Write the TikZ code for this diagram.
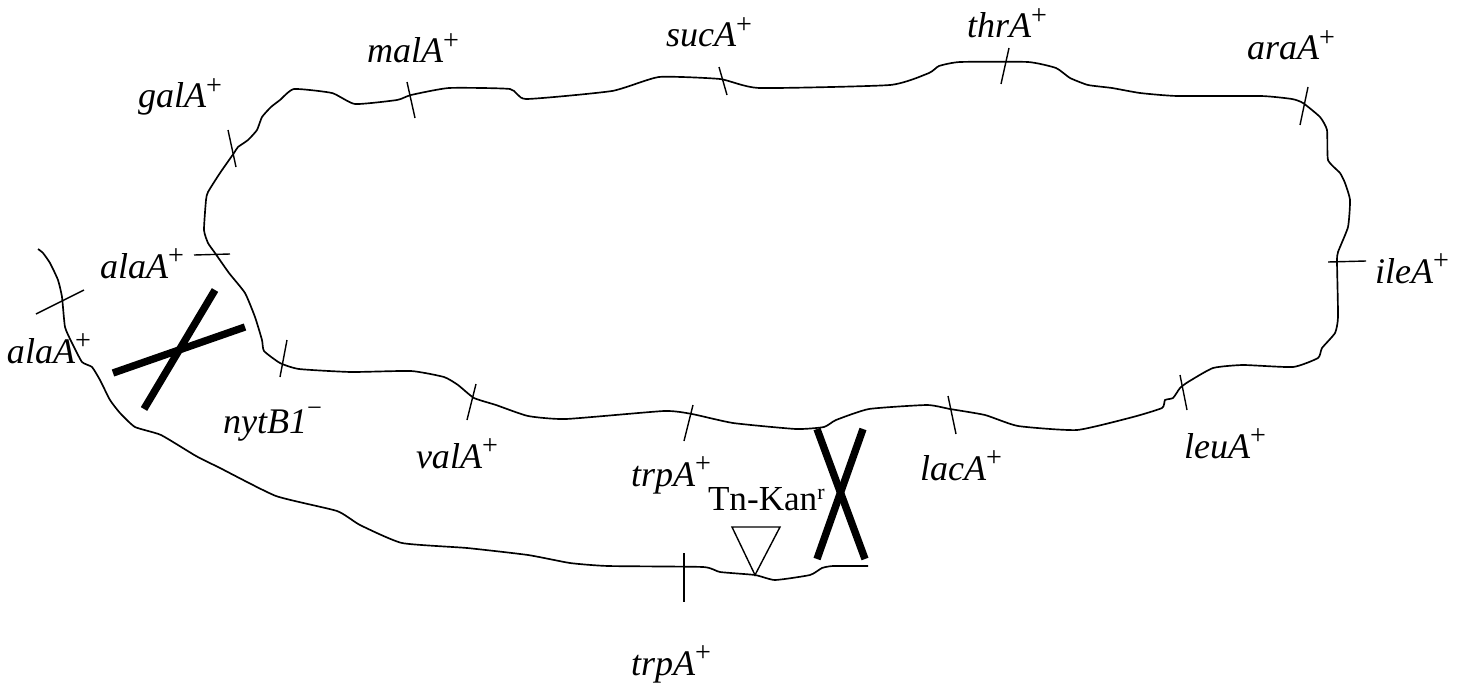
\documentclass[tikz,border=0pt]{standalone}
\usepackage{fontspec}
\setmainfont{Liberation Serif}
\newcommand\plusup{\raisebox{7.6pt}{\normalfont\fontsize{16}{16}\selectfont +}}
\newcommand\minup{\raisebox{9.2pt}{\normalfont\fontsize{15}{15}\selectfont −}}
\newcommand\rup{\raisebox{6pt}{\normalfont\fontsize{12.5}{12.5}\selectfont r}}
\begin{document}
\begin{tikzpicture}[x=0.02cm,y=-0.02cm]
\tikzset{
  strand/.style={line width=0.95pt, line join=round},
  locus/.style={line width=0.8pt},
  cross/.style={line width=4.2pt},
  gene/.style={anchor=base west, inner sep=0pt, outer sep=0pt, font=\fontsize{20.5}{24}\selectfont\itshape},
  plainlab/.style={anchor=base west, inner sep=0pt, outer sep=0pt, font=\fontsize{20}{24}\selectfont},
}
\useasboundingbox (0,0) rectangle (1466,686);

% chromosome loop
\draw[strand] plot[smooth cycle, tension=0.3] coordinates {
(294,89) (332,93) (355,104) (397,100) (411,95) (449,88) (510,89) (526,99) (612,91) (659,77) (720,79)
(759,88) (890,85) (929,73) (939,66) (960,62) (1028,62) (1056,68) (1070,78) (1088,85) (1112,88)
(1140,93) (1177,96) (1261,96) (1292,99) (1303,103) (1320,117) (1327,130) (1328,160) (1340,173)
(1345,183) (1350,200) (1348,227) (1338,252) (1337,262) (1338,317) (1335,333) (1322,348) (1318,358)
(1293,367) (1243,365) (1213,368) (1188,382) (1180,388) (1173,398) (1165,400) (1162,408) (1133,417)
(1077,430) (1018,426) (985,415) (950,409) (927,405) (869,409) (836,420) (824,427) (796,429)
(733,423) (692,414) (664,411) (566,419) (528,416) (496,405) (474,398) (458,385) (444,377)
(411,371) (351,372) (299,369) (280,363) (264,351) (262,340) (255,317) (245,293) (229,273)
(215,253) (208,243) (204,230) (206,200) (208,192) (220,173) (234,153) (238,147) (248,140)
(257,130) (262,117) (271,107) (280,100)};

% second strand
\draw[strand] plot[smooth, tension=0.3] coordinates {
(38,249) (43,253) (50,263) (58,280) (62,297) (65,327) (72,343) (82,362) (92,367) (100,380)
(110,400) (120,413) (135,427) (161,435) (196,456) (220,468) (276,496) (337,511) (360,525)
(402,543) (467,548) (528,555) (570,563) (608,566) (703,567) (720,572) (755,575) (775,580)
(810,575) (822,568) (833,566) (868,566)};

% loci ticks
\draw[locus] (228,130) -- (236,167);
\draw[locus] (407,82) -- (415,118);
\draw[locus] (719,67) -- (727,95);
\draw[locus] (1009,48) -- (1001,84);
\draw[locus] (1308,87) -- (1300,125);
\draw[locus] (1328,262) -- (1366,261);
\draw[locus] (194,255) -- (230,254);
\draw[locus] (36,314) -- (84,290);
\draw[locus] (287,340) -- (280,377);
\draw[locus] (476,384) -- (467,420);
\draw[locus] (693,405) -- (684,441);
\draw[locus] (948,396) -- (956,434);
\draw[locus] (1180,375) -- (1187,410);
\draw[locus] (684,553) -- (684,602);

% transposon triangle
\draw[locus, line join=miter] (732,527) -- (780,527) -- (755,575) -- cycle;

% crossovers
\draw[cross] (817,429) -- (865,559);
\draw[cross] (863,429) -- (817,559);
\draw[cross] (215,290) -- (144,409);
\draw[cross] (113,373) -- (245,327);

% labels
\node[gene] (galA) at (138,108) {galA\plusup};
\node[gene] (malA) at (367,63) {malA\plusup};
\node[gene] (sucA) at (666,47) {sucA\plusup};
\node[gene] (thrA) at (967,38) {thrA\plusup};
\node[gene] (araA) at (1247,60) {araA\plusup};
\node[gene] (ileA) at (1375,283) {ileA\plusup};
\node[gene] (alaA1) at (100,278) {alaA\plusup};
\node[gene] (alaA2) at (7,363) {alaA\plusup};
\node[gene] (nytB) at (223,433) {nytB1\minup};
\node[gene] (valA) at (416,468) {valA\plusup};
\node[gene] (trpA1) at (631,486) {trpA\plusup};
\node[plainlab] (tn) at (708,510) {Tn-Kan\rup};
\node[gene] (lacA) at (920,480) {lacA\plusup};
\node[gene] (leuA) at (1184,458) {leuA\plusup};
\node[gene] (trpA2) at (631,675) {trpA\plusup};
\end{tikzpicture}
\end{document}
